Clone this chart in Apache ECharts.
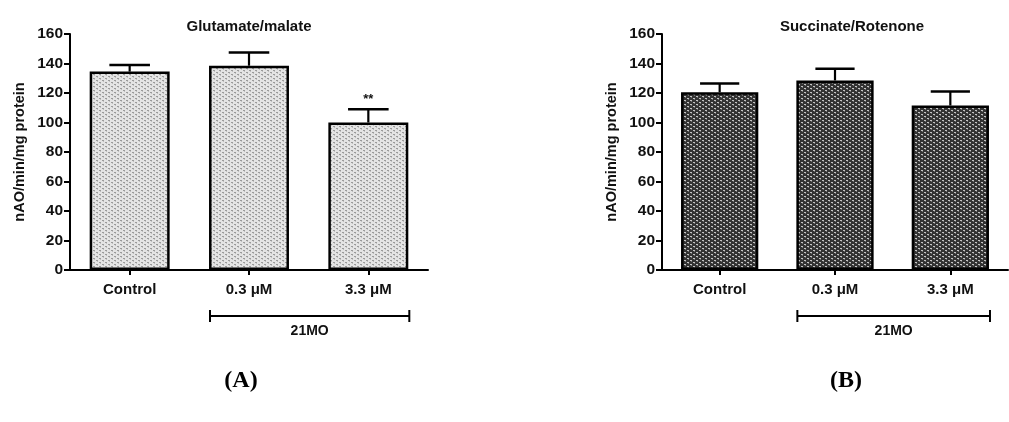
<!DOCTYPE html>
<html>
<head>
<meta charset="utf-8">
<script src="https://cdn.jsdelivr.net/npm/echarts@6/dist/echarts.min.js"></script>
<style>html,body{margin:0;padding:0;background:#fff}#c{width:1009px;height:422px}</style>
</head>
<body>
<div id="c"></div>
<script>
const categories = ['Control', '0.3 μM', '3.3 μM'];
const yTicks = [0, 20, 40, 60, 80, 100, 120, 140, 160];
const glutamateMean = [134.5, 138.5, 100];
const glutamateErr = [4.5, 9, 9];
const glutamateSig = ['', '', '**'];
const succinateMean = [120.5, 128.5, 111.5];
const succinateErr = [6, 8, 9.5];
const succinateSig = ['', '', ''];
const panelTitles = ['Glutamate/malate', 'Succinate/Rotenone'];
const panelLetters = ['A', 'B'];
const yName = 'nAO/min/mg protein';
const groupName = '21MO';

function makePattern(bg, dot, dot2) {
  const c = document.createElement('canvas');
  c.width = 6; c.height = 4;
  const g = c.getContext('2d');
  g.fillStyle = bg; g.fillRect(0, 0, 6, 4);
  g.fillStyle = dot;
  g.fillRect(0, 0, 2, 1); g.fillRect(3, 2, 2, 1);
  g.fillStyle = dot2;
  g.fillRect(1, 1, 1, 1); g.fillRect(4, 3, 1, 1);
  return c;
}
const patA = makePattern('#e4e4e4', '#9a9a9a', '#c0c0c0');
const patB = makePattern('#333333', '#c4c4c4', '#707070');

const chart = echarts.init(document.getElementById('c'), null, {renderer: 'canvas'});
const font = 'Liberation Sans, Arial, sans-serif';
const BARW = 0.67;

function grids() {
  return [
    {left: 70, right: 581, top: 34, bottom: 152},
    {left: 662, right: 1, top: 34, bottom: 152}
  ];
}
function xAxis(i) {
  return {
    type: 'category', gridIndex: i, data: categories,
    axisLine: {lineStyle: {color: '#000', width: 2}},
    axisTick: {show: true, alignWithLabel: true, length: 5, lineStyle: {color: '#000', width: 2}},
    axisLabel: {color: '#111', fontFamily: font, fontWeight: 'bold', fontSize: 15, margin: 12}
  };
}
function yAxis(i) {
  return {
    type: 'value', gridIndex: i, min: 0, max: 160, interval: 20,
    name: yName, nameLocation: 'middle', nameGap: 43, nameRotate: 90,
    nameTextStyle: {color: '#111', fontFamily: font, fontWeight: 'bold', fontSize: 14.5},
    splitLine: {show: false},
    axisLine: {show: true, lineStyle: {color: '#000', width: 2}},
    axisTick: {show: true, length: 6, lineStyle: {color: '#000', width: 2}},
    axisLabel: {color: '#111', fontFamily: font, fontWeight: 'bold', fontSize: 15.5, margin: 7,
      formatter: v => yTicks.includes(v) ? String(v) : ''}
  };
}
function barSeries(i, data, pat) {
  return {
    type: 'bar', xAxisIndex: i, yAxisIndex: i, data: data, barWidth: (BARW * 100) + '%',
    itemStyle: {color: {image: pat, repeat: 'repeat'}, borderColor: '#000', borderWidth: 2.5},
    silent: true, z: 2
  };
}
function errSeries(i, means, errs, sig) {
  return {
    type: 'custom', xAxisIndex: i, yAxisIndex: i, z: 3, silent: true,
    data: means.map((m, k) => [k, m, errs[k], sig[k]]),
    renderItem: function (params, api) {
      const x = api.value(0), m = api.value(1), e = api.value(2);
      const p0 = api.coord([x, m]);
      const p1 = api.coord([x, m + e]);
      const band = api.size([1, 0])[0];
      const cw = band * 0.34;
      const children = [
        {type: 'line', shape: {x1: p0[0], y1: p0[1], x2: p1[0], y2: p1[1]}, style: {stroke: '#000', lineWidth: 2.2}},
        {type: 'line', shape: {x1: p1[0] - cw / 2, y1: p1[1], x2: p1[0] + cw / 2, y2: p1[1]}, style: {stroke: '#000', lineWidth: 2.5}}
      ];
      const s = sig[params.dataIndex];
      if (s) {
        children.push({type: 'text', x: p1[0], y: p1[1] - 3,
          style: {text: s, fill: '#111', font: 'bold 13px ' + font, textAlign: 'center', textVerticalAlign: 'bottom'}});
      }
      return {type: 'group', children: children};
    }
  };
}
function bracketSeries(i) {
  return {
    type: 'custom', xAxisIndex: i, yAxisIndex: i, z: 3, silent: true, clip: false,
    data: [[1, 2]],
    renderItem: function (params, api) {
      const a = api.coord([api.value(0), 0]);
      const b = api.coord([api.value(1), 0]);
      const band = api.size([1, 0])[0];
      const x1 = a[0] - band * BARW / 2 + 1, x2 = b[0] + band * BARW / 2 + 1;
      const y = a[1] + 46;
      return {type: 'group', children: [
        {type: 'line', shape: {x1: x1, y1: y, x2: x2, y2: y}, style: {stroke: '#000', lineWidth: 2}},
        {type: 'line', shape: {x1: x1, y1: y - 6, x2: x1, y2: y + 6}, style: {stroke: '#000', lineWidth: 2}},
        {type: 'line', shape: {x1: x2, y1: y - 6, x2: x2, y2: y + 6}, style: {stroke: '#000', lineWidth: 2}},
        {type: 'text', x: (x1 + x2) / 2, y: y + 8,
          style: {text: groupName, fill: '#111', font: 'bold 14px ' + font, textAlign: 'center', textVerticalAlign: 'top'}}
      ]};
    }
  };
}

chart.setOption({
  animation: false,
  backgroundColor: '#fff',
  title: [
    {text: panelTitles[0], left: 244, top: 14, textAlign: 'center',
      textStyle: {color: '#111', fontFamily: font, fontWeight: 'bold', fontSize: 15}},
    {text: panelTitles[1], left: 847, top: 14, textAlign: 'center',
      textStyle: {color: '#111', fontFamily: font, fontWeight: 'bold', fontSize: 15}},
    {text: '{p|(}{b|' + panelLetters[0] + '}{p|)}', left: 236, top: 364, textAlign: 'center',
      textStyle: {rich: {p: {fontFamily: 'Liberation Serif, serif', fontSize: 24, color: '#000'},
        b: {fontFamily: 'Liberation Serif, serif', fontSize: 24, fontWeight: 'bold', color: '#000'}}}},
    {text: '{p|(}{b|' + panelLetters[1] + '}{p|)}', left: 841, top: 364, textAlign: 'center',
      textStyle: {rich: {p: {fontFamily: 'Liberation Serif, serif', fontSize: 24, color: '#000'},
        b: {fontFamily: 'Liberation Serif, serif', fontSize: 24, fontWeight: 'bold', color: '#000'}}}}
  ],
  grid: grids(),
  xAxis: [xAxis(0), xAxis(1)],
  yAxis: [yAxis(0), yAxis(1)],
  series: [
    barSeries(0, glutamateMean, patA),
    errSeries(0, glutamateMean, glutamateErr, glutamateSig),
    bracketSeries(0),
    barSeries(1, succinateMean, patB),
    errSeries(1, succinateMean, succinateErr, succinateSig),
    bracketSeries(1)
  ]
});
</script>
</body>
</html>
